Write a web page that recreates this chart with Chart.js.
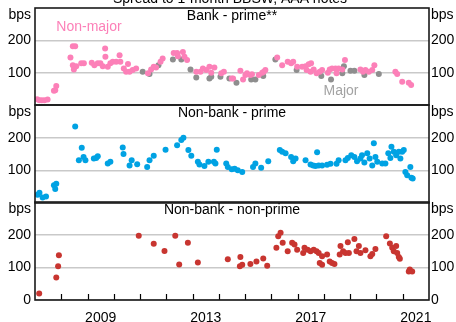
<!DOCTYPE html>
<html>
<head>
<meta charset="utf-8">
<script src="https://cdn.jsdelivr.net/npm/chart.js@4/dist/chart.umd.min.js"></script>
<style>
  html, body { margin: 0; padding: 0; background: #fff; }
  #wrap { position: relative; width: 456px; height: 322px; overflow: hidden; }
  #wrap canvas { position: absolute; left: 0; top: 0; }
</style>
</head>
<body>
<div id="wrap">
  <canvas id="bankPrime" width="456" height="322"></canvas>
  <canvas id="nonBankPrime" width="456" height="322"></canvas>
  <canvas id="nonBankNonPrime" width="456" height="322"></canvas>
</div>
<script>
// spreads to 1-month BBSW, AAA notes (bps); dates as decimal years
const yearLabels = [2009, 2013, 2017, 2021];
const yTicks = [100, 200];

const nonMajorDates = [2007.08, 2007.17, 2007.26, 2007.36, 2007.48, 2007.72, 2007.77, 2007.81, 2008.35, 2008.44,
  2008.53, 2008.44, 2008.48, 2008.57, 2008.76, 2008.86, 2009.16, 2009.26, 2009.39, 2009.49,
  2009.58, 2009.67, 2009.68, 2009.77, 2009.87, 2009.96, 2010.09, 2010.22, 2010.25, 2010.38,
  2010.47, 2010.54, 2010.6, 2010.72, 2010.85, 2011.3, 2011.42, 2011.52, 2011.61, 2011.78,
  2011.86, 2012.28, 2012.41, 2012.44, 2012.63, 2012.69, 2012.79, 2013.14, 2013.3, 2013.39,
  2013.52, 2013.64, 2013.83, 2013.71, 2014.09, 2014.19, 2014.49, 2014.54, 2014.82, 2014.92,
  2015.01, 2015.07, 2015.2, 2015.26, 2015.52, 2015.65, 2015.71, 2015.77, 2016.22, 2016.41,
  2016.62, 2016.75, 2016.83, 2016.98, 2017.17, 2017.3, 2017.42, 2017.51, 2017.34, 2017.49,
  2017.61, 2017.72, 2017.84, 2017.93, 2018.15, 2018.22, 2018.31, 2018.44, 2018.56, 2018.48,
  2018.8, 2018.7, 2019.39, 2019.49, 2019.58, 2019.71, 2019.84, 2019.92, 2020.72, 2020.79,
  2020.98, 2021.23, 2021.32];
const nonMajorSpread = [18, 15, 15, 15, 17, 44, 46, 59, 147, 182,
  182, 123, 110, 120, 129, 129, 131, 123, 129, 129,
  120, 175, 149, 118, 129, 134, 134, 154, 134, 113,
  103, 127, 103, 108, 113, 98, 110, 118, 116, 134,
  144, 161, 161, 151, 164, 149, 139, 103, 103, 113,
  108, 118, 116, 100, 98, 103, 82, 82, 106, 79,
  93, 98, 93, 95, 93, 100, 103, 108, 147, 123,
  134, 129, 134, 118, 118, 120, 126, 129, 108, 103,
  110, 98, 103, 108, 100, 110, 113, 113, 113, 98,
  139, 110, 110, 103, 108, 103, 108, 123, 103, 96,
  72, 69, 62];

const majorDates = [2011.1, 2011.36, 2011.7, 2012.25, 2012.57, 2012.92, 2013.14, 2013.64, 2013.71, 2014.06,
  2014.4, 2014.67, 2015.23, 2015.39, 2015.69, 2016.15, 2016.96, 2017.9, 2018.27, 2018.7,
  2018.76, 2019.01, 2019.16, 2019.54, 2020.09];
const majorSpread = [103, 96, 123, 141, 141, 110, 85, 82, 87, 87,
  82, 69, 79, 79, 90, 141, 108, 90, 79, 98,
  120, 106, 106, 93, 96];

const nonBankPrimeDates = [2007.1, 2007.17, 2007.29, 2007.42, 2007.72, 2007.77, 2007.81, 2008.53, 2008.67, 2008.78,
  2008.85, 2008.92, 2009.24, 2009.33, 2009.39, 2009.77, 2009.87, 2010.34, 2010.37, 2010.6,
  2010.68, 2010.89, 2011.27, 2011.36, 2011.52, 2011.97, 2012.41, 2012.57, 2012.65, 2012.84,
  2012.95, 2013.2, 2013.26, 2013.45, 2013.6, 2013.81, 2013.87, 2013.92, 2014.28, 2014.34,
  2014.49, 2014.6, 2014.72, 2014.89, 2015.3, 2015.39, 2015.61, 2015.88, 2016.32, 2016.41,
  2016.54, 2016.75, 2016.83, 2016.92, 2017.3, 2017.49, 2017.59, 2017.68, 2017.74, 2017.8,
  2017.93, 2018.12, 2018.25, 2018.48, 2018.56, 2018.82, 2018.91, 2019.04, 2019.16, 2019.26,
  2019.39, 2019.45, 2019.54, 2019.65, 2019.74, 2019.84, 2019.9, 2019.96, 2020.03, 2020.22,
  2020.34, 2020.45, 2020.53, 2020.57, 2020.66, 2020.75, 2020.85, 2020.91, 2020.98, 2021.04,
  2021.1, 2021.17, 2021.29, 2021.33, 2021.38];
const nonBankPrimeSpread = [25, 31, 17, 20, 54, 43, 59, 234, 131, 169,
  141, 131, 136, 138, 143, 121, 126, 170, 150, 115,
  131, 119, 110, 131, 145, 163, 177, 193, 200, 162,
  145, 126, 118, 113, 126, 126, 121, 163, 121, 110,
  103, 105, 100, 95, 110, 121, 108, 128, 162, 157,
  152, 141, 128, 136, 131, 118, 115, 113, 155, 115,
  115, 117, 120, 120, 131, 131, 138, 146, 141, 128,
  136, 146, 124, 152, 136, 115, 183, 141, 126, 121,
  121, 152, 138, 172, 157, 146, 157, 136, 157, 162,
  95, 85, 110, 77, 75];

const nonPrimeDates = [2007.16, 2007.81, 2007.88, 2007.91, 2010.95, 2011.52, 2011.93, 2012.34, 2012.49, 2012.82,
  2013.2, 2014.34, 2014.8, 2014.82, 2014.89, 2015.2, 2015.43, 2015.69, 2015.84, 2016.19,
  2016.26, 2016.35, 2016.43, 2016.62, 2016.79, 2016.88, 2016.98, 2017.21, 2017.26, 2017.38,
  2017.49, 2017.61, 2017.72, 2017.8, 2017.84, 2017.93, 2017.93, 2018.12, 2018.22, 2018.31,
  2018.4, 2018.6, 2018.63, 2018.73, 2018.82, 2018.91, 2018.95, 2019.16, 2019.24, 2019.33,
  2019.39, 2019.58, 2019.77, 2019.84, 2019.96, 2020.37, 2020.51, 2020.6, 2020.66, 2020.75,
  2020.79, 2020.85, 2020.89, 2021.23, 2021.27, 2021.36];
const nonPrimeSpread = [20, 69, 103, 137, 197, 172, 150, 197, 109, 175,
  115, 125, 103, 132, 108, 110, 118, 127, 105, 160,
  195, 206, 175, 149, 175, 170, 154, 144, 160, 154,
  149, 154, 149, 144, 113, 108, 134, 139, 118, 113,
  110, 139, 165, 149, 144, 177, 144, 187, 149, 165,
  144, 152, 134, 141, 156, 195, 173, 160, 149, 165,
  144, 132, 126, 87, 93, 87];

const PINK = '#fc80b8';
const GREY = '#8e8e8e';
const BLUE = '#00a2e3';
const RED = '#c83530';
const FONT = 'Liberation Sans, Arial, sans-serif';

Chart.defaults.font.family = FONT;
Chart.defaults.font.size = 14;
Chart.defaults.color = '#000';

function points(xs, ys) {
    return xs.map((x, i) => ({ x: x, y: ys[i] }));
}

function dots(label, xs, ys, color) {
    return {
        label: label,
        data: points(xs, ys),
        backgroundColor: color,
        borderWidth: 0,
        pointRadius: 3,
        pointHoverRadius: 3,
        showLine: false
    };
}

// frame, panel title, "bps" units and extra text per panel
const panelDecor = {
    id: 'panelDecor',
    afterDraw(chart, args, opts) {
        const ctx = chart.ctx;
        const a = chart.chartArea;
        ctx.save();

        // year ticks along the bottom axis, pointing inwards
        if (opts.yearTicks) {
            const xs = chart.scales.x;
            ctx.strokeStyle = '#000';
            ctx.lineWidth = 1.2;
            for (let yr = 2008; yr <= 2021; yr++) {
                const px = Math.round(xs.getPixelForValue(yr)) + 0.5;
                ctx.beginPath();
                ctx.moveTo(px, a.bottom);
                ctx.lineTo(px, a.bottom - 6);
                ctx.stroke();
            }
        }

        ctx.strokeStyle = '#1a1a1a';
        ctx.lineWidth = 1.6;
        ctx.strokeRect(a.left, a.top, a.right - a.left, a.bottom - a.top);

        ctx.fillStyle = '#000';
        ctx.font = '14px ' + FONT;
        ctx.textBaseline = 'middle';
        ctx.textAlign = 'center';
        ctx.fillText(opts.title, (a.left + a.right) / 2, a.top + 8.5);
        ctx.textAlign = 'right';
        ctx.fillText('bps', a.left - 4, a.top + 7.5);
        ctx.textAlign = 'left';
        ctx.fillText('bps', a.right + 2, a.top + 7.5);

        (opts.notes || []).forEach(n => {
            ctx.fillStyle = n.color;
            ctx.textAlign = 'center';
            ctx.textBaseline = n.baseline || 'middle';
            ctx.fillText(n.text, n.x, n.y);
        });
        ctx.restore();
    }
};

function yAxis(position, tickValues) {
    return {
        type: 'linear',
        position: position,
        min: 0,
        max: 300,
        afterBuildTicks: s => { s.ticks = tickValues.map(v => ({ value: v })); },
        afterFit: s => {
            s.width = position === 'left' ? 35 : 27;
            s.paddingTop = 0;
            s.paddingBottom = 0;
        },
        ticks: { padding: position === 'left' ? 4 : 2 },
        border: { display: false },
        grid: {
            display: position === 'left',
            drawTicks: false,
            color: '#c9c9c9',
            lineWidth: 1.5
        }
    };
}

function makePanel(id, datasets, top, bottom, withXAxis, decor) {
    const ticks = withXAxis ? [0].concat(yTicks) : yTicks;
    return new Chart(document.getElementById(id), {
        type: 'scatter',
        data: { datasets: datasets },
        options: {
            responsive: false,
            animation: false,
            events: [],
            layout: { padding: { top: top, bottom: bottom, left: 0, right: 0 } },
            plugins: {
                legend: { display: false },
                tooltip: { enabled: false },
                panelDecor: decor
            },
            scales: {
                x: {
                    type: 'linear',
                    min: 2007,
                    max: 2022,
                    display: withXAxis,
                    afterBuildTicks: s => { s.ticks = yearLabels.map(y => ({ value: y + 0.5 })); },
                    afterFit: s => {
                        s.height = withXAxis ? 22 : 0;
                        s.paddingLeft = 0;
                        s.paddingRight = 0;
                    },
                    ticks: {
                        padding: 2,
                        maxRotation: 0,
                        callback: v => String(Math.floor(v))
                    },
                    border: { display: false },
                    grid: { display: false }
                },
                y: yAxis('left', ticks),
                y2: yAxis('right', ticks)
            }
        },
        plugins: [panelDecor]
    });
}

makePanel('bankPrime', [
    dots('Non-major', nonMajorDates, nonMajorSpread, PINK),
    dots('Major', majorDates, majorSpread, GREY)
], 8, 217, false, {
    title: 'Bank - prime**',
    notes: [
        { text: 'Spread to 1-month BBSW, AAA notes', x: 230, y: 3, color: '#000', baseline: 'alphabetic' },
        { text: 'Non-major', x: 89, y: 27, color: PINK },
        { text: 'Major', x: 341, y: 91, color: '#a3a3a3' }
    ]
});

makePanel('nonBankPrime', [
    dots('Non-bank - prime', nonBankPrimeDates, nonBankPrimeSpread, BLUE)
], 105, 119, false, { title: 'Non-bank - prime' });

makePanel('nonBankNonPrime', [
    dots('Non-bank - non-prime', nonPrimeDates, nonPrimeSpread, RED)
], 202, 0, true, { title: 'Non-bank - non-prime', yearTicks: true });
</script>
</body>
</html>
